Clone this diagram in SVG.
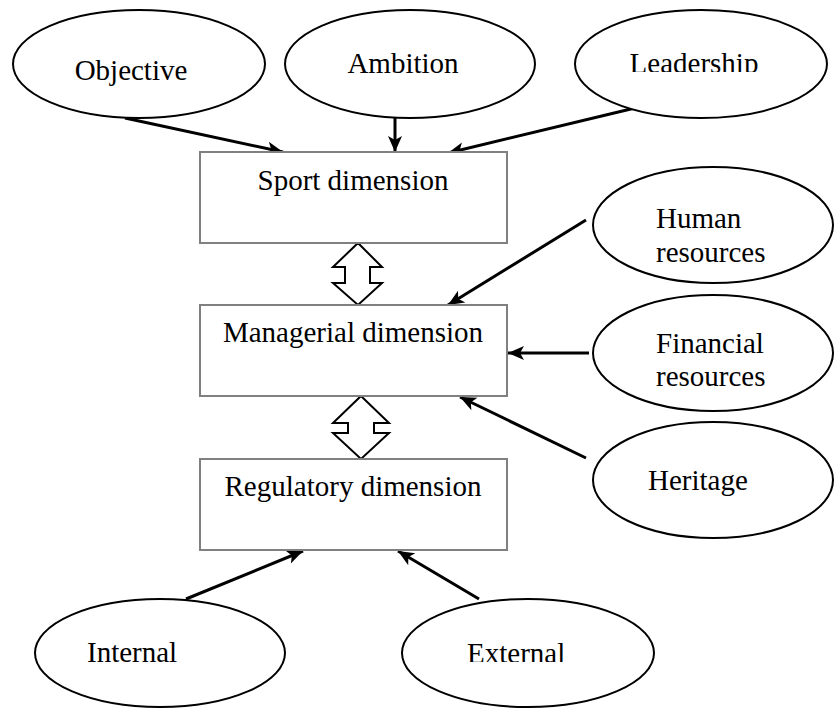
<svg xmlns="http://www.w3.org/2000/svg" width="836" height="709" viewBox="0 0 836 709">
<style>
.ell{fill:#fff;stroke:#000;stroke-width:2}
.box{fill:#fff;stroke:#808080;stroke-width:2}
.t{font-family:'Liberation Serif','Times New Roman',serif;font-size:29px;fill:#000}
.c{text-anchor:middle}
.ar{stroke:#000;stroke-width:3;fill:none;marker-end:url(#ah)}
.dbl{fill:#fff;stroke:#000;stroke-width:2;stroke-linejoin:miter}
</style>
<defs>
<marker id="ah" markerUnits="userSpaceOnUse" markerWidth="18" markerHeight="16" refX="16" refY="8" orient="auto">
<path d="M0,1 L16,8 L0,15 L4,8 Z" fill="#000"/>
</marker>
<clipPath id="clipL"><rect x="570" y="0" width="266" height="72"/></clipPath>
<clipPath id="clipE"><rect x="400" y="600" width="260" height="62"/></clipPath>
</defs>
<rect width="836" height="709" fill="#fff"/>
<g id="connectors">
<line class="ar" x1="125" y1="118" x2="283" y2="152"/>
<line class="ar" x1="395" y1="118" x2="395" y2="152"/>
<line class="ar" x1="635" y1="108" x2="448" y2="153"/>
<line class="ar" x1="586" y1="220" x2="448" y2="305"/>
<line class="ar" x1="589" y1="353" x2="508" y2="353"/>
<line class="ar" x1="586" y1="458" x2="460" y2="397"/>
<line class="ar" x1="186" y1="599" x2="303" y2="551"/>
<line class="ar" x1="479" y1="599" x2="398" y2="551"/>
<polygon class="dbl" points="358,243 382,267 370,267 370,283 382,283 358,305 333,283 345,283 345,267 333,267"/>
<polygon class="dbl" points="361,396 389,423 374,423 374,433 389,433 361,459 333,433 348,433 348,423 333,423"/>
</g>
<g id="objective"><ellipse class="ell" cx="139" cy="64" rx="126" ry="54"/><text class="t c" font-family="Liberation Serif, serif" x="131" y="80">Objective</text></g>
<g id="ambition"><ellipse class="ell" cx="410" cy="64" rx="125" ry="54"/><text class="t c" font-family="Liberation Serif, serif" x="403" y="73">Ambition</text></g>
<g id="leadership"><ellipse class="ell" cx="701" cy="64" rx="126" ry="54"/><text class="t c" font-family="Liberation Serif, serif" x="694" y="73" clip-path="url(#clipL)">Leadership</text></g>
<g id="sport"><rect class="box" x="200" y="152" width="307" height="91"/><text class="t c" font-family="Liberation Serif, serif" x="353" y="190">Sport dimension</text></g>
<g id="managerial"><rect class="box" x="200" y="305" width="307" height="91"/><text class="t c" font-family="Liberation Serif, serif" x="353" y="342">Managerial dimension</text></g>
<g id="regulatory"><rect class="box" x="200" y="459" width="307" height="91"/><text class="t c" font-family="Liberation Serif, serif" x="353" y="496">Regulatory dimension</text></g>
<g id="human"><ellipse class="ell" cx="713" cy="225" rx="120" ry="58"/><text class="t" font-family="Liberation Serif, serif" x="656" y="228">Human</text><text class="t" font-family="Liberation Serif, serif" x="656" y="262">resources</text></g>
<g id="financial"><ellipse class="ell" cx="713" cy="353" rx="120" ry="58"/><text class="t" font-family="Liberation Serif, serif" x="656" y="353">Financial</text><text class="t" font-family="Liberation Serif, serif" x="656" y="386">resources</text></g>
<g id="heritage"><ellipse class="ell" cx="713" cy="480" rx="120" ry="58"/><text class="t" font-family="Liberation Serif, serif" x="648" y="490">Heritage</text></g>
<g id="internal"><ellipse class="ell" cx="160" cy="653" rx="125" ry="54"/><text class="t" font-family="Liberation Serif, serif" x="87" y="662">Internal</text></g>
<g id="external"><ellipse class="ell" cx="528" cy="653" rx="126" ry="54"/><text class="t" font-family="Liberation Serif, serif" x="467" y="663" clip-path="url(#clipE)">External</text></g>
</svg>
